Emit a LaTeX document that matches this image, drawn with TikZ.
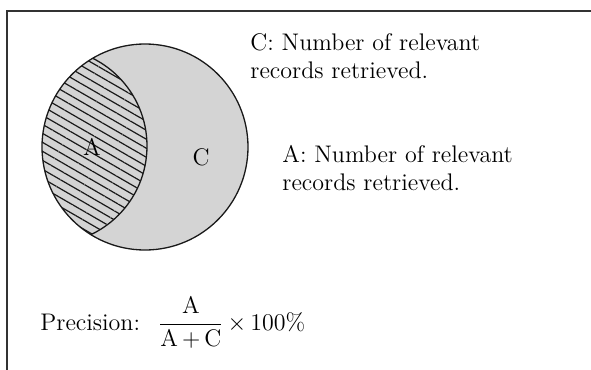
\documentclass[tikz,border=0pt]{standalone}
\usepackage{amsmath}
\usepackage{tikz}
\usetikzlibrary{
  patterns.meta,  % 斜线阴影填充
  positioning     % 节点相对定位
}
\tikzset{
  frame line/.style={
    line width=1pt,
    color=black!80
  },
  set outline/.style={
    draw=black!90,
    line width=0.65pt
  },
  hatch region/.style={
    pattern={Lines[angle=-30, distance=3.9pt, line width=0.6pt]},
    pattern color=black!90
  },
  set label/.style={
    font=\fontsize{12}{14}\selectfont,
    inner sep=0pt
  },
  note text/.style={
    font=\fontsize{12}{14}\selectfont,
    align=left,
    inner sep=0pt
  }
}

\begin{document}
\begin{tikzpicture}[x=0.5pt, y=-0.5pt]
    \useasboundingbox (0,0) rectangle (591,370);

    % 外框：只画上边和左边
    \coordinate (frame right) at (591,11);
    \coordinate (frame corner) at (7,11);
    \coordinate (frame bottom) at (7,370);
    \draw[frame line] (frame right) -- (frame corner) -- (frame bottom);

    % 大圆 C（检索到的全部记录），灰色填充
    \coordinate (c center) at (145,147);
    \coordinate (a center) at (49,146);
    \fill[black!17] (c center) circle[radius=103];

    % 区域 A：两圆相交部分，斜线阴影
    \begin{scope}
      \clip (c center) circle[radius=103];
      \fill[hatch region] (a center) circle[radius=98];
      \draw[set outline] (a center) circle[radius=98];
    \end{scope}
    \draw[set outline] (c center) circle[radius=103];

    % 区域标签
    \node[set label] (label a) at (92,147) {A};
    \node[set label] (label c) at (201,157) {C};

    % 右侧说明文字（base 锚点在最后一行）
    \node[note text, anchor=base west] (note c) at (250,78)
      {C: Number of relevant\\records retrieved.};
    \node[note text, anchor=base west] (note a) at (282,190)
      {A: Number of relevant\\records retrieved.};

    % 精确率公式
    \node[note text, anchor=base west] (precision) at (40,330)
      {Precision:\hspace{0.75em}$\dfrac{\mathrm{A}}{\mathrm{A}\,{+}\,\mathrm{C}}\,{\times}\,100\%$};

  \end{tikzpicture}
\end{document}
